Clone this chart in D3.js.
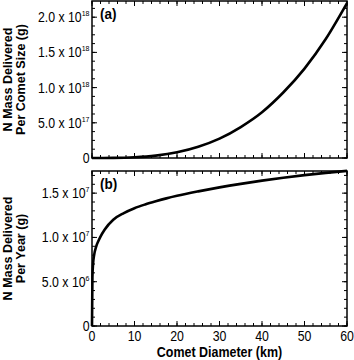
<!DOCTYPE html>
<html>
<head>
<meta charset="utf-8">
<script src="https://cdn.jsdelivr.net/npm/d3@7"></script>
<style>
  body { margin: 0; background: #fff; }
  svg { display: block; }
  text { font-family: "Liberation Sans", Arial, sans-serif; fill: #000; }
</style>
</head>
<body>
<svg id="chart" width="354" height="360"></svg>
<script>
// panel (a): N mass delivered per comet size
const diamA = [0, 5, 10, 15, 20, 25, 30, 35, 40, 45, 50, 55, 60];
const massPerComet = [0, 1.3e15, 1.0e16, 3.4e16, 8.1e16, 1.6e17, 2.75e17, 4.4e17, 6.5e17, 9.3e17, 1.27e18, 1.69e18, 2.2e18];

// panel (b): N mass delivered per year
const diamB = [0, 0.1, 0.25, 0.5, 1, 1.5, 2, 3, 5, 7.5, 10, 12.5, 15, 17.5, 20, 25, 30, 35, 40, 45, 50, 55, 60];
const massPerYear = [0, 5.5e6, 7.0e6, 8.0e6, 9.0e6, 9.6e6, 10.1e6, 10.9e6, 12.0e6, 12.75e6, 13.3e6, 13.72e6, 14.08e6, 14.41e6, 14.7e6, 15.2e6, 15.65e6, 16.05e6, 16.41e6, 16.74e6, 17.03e6, 17.29e6, 17.51e6];

// tick labels
const xTicks = [0, 10, 20, 30, 40, 50, 60];
const yTicksA = [0, 5e17, 1e18, 1.5e18, 2e18];
const yMantA = ["0", "5.0", "1.0", "1.5", "2.0"];
const yExpA = ["", "17", "18", "18", "18"];
const yTicksB = [0, 5e6, 1e7, 1.5e7];
const yMantB = ["0", "5.0", "1.0", "1.5"];
const yExpB = ["", "6", "7", "7"];

const svg = d3.select("#chart");
const left = 92, right = 347;

const x = d3.scaleLinear().domain([0, 60]).range([left, right]);
const xMinor = d3.range(0, 61, 2);

// narrow-looking text: squeeze a normal sans horizontally
function label(px, py, { size = 14, bold = false, anchor = "start", rot = 0, sx = 0.88 } = {}) {
  return svg.append("g")
    .attr("transform", `translate(${px},${py}) rotate(${rot}) scale(${sx},1)`)
    .append("text")
    .attr("text-anchor", anchor)
    .style("font-size", size + "px")
    .style("font-weight", bold ? "bold" : "normal");
}

function drawPanel(opts) {
  const { top, bottom, y, xs, ys, ticks, mant, exps, minorStep, tag, showX } = opts;
  const g = svg.append("g");

  const yMinor = d3.range(0, y.domain()[1] + 1, minorStep);

  // inward ticks on all four sides
  const tk = (vals, len, pos) => {
    vals.forEach(v => {
      if (pos === "bottom") g.append("line").attr("x1", x(v)).attr("x2", x(v)).attr("y1", bottom).attr("y2", bottom - len);
      if (pos === "top") g.append("line").attr("x1", x(v)).attr("x2", x(v)).attr("y1", top).attr("y2", top + len);
      if (pos === "left") g.append("line").attr("y1", y(v)).attr("y2", y(v)).attr("x1", left).attr("x2", left + len);
      if (pos === "right") g.append("line").attr("y1", y(v)).attr("y2", y(v)).attr("x1", right).attr("x2", right - len);
    });
  };
  ["bottom", "top"].forEach(p => { tk(xMinor, 3, p); tk(xTicks, 5, p); });
  ["left", "right"].forEach(p => { tk(yMinor, 3, p); tk(ticks, 5, p); });
  g.selectAll("line").attr("stroke", "#000").attr("stroke-width", 1);

  g.append("rect")
    .attr("x", left).attr("y", top)
    .attr("width", right - left).attr("height", bottom - top)
    .attr("fill", "none").attr("stroke", "#000").attr("stroke-width", 1.5);

  const line = d3.line()
    .x((d, i) => x(xs[i]))
    .y((d, i) => y(ys[i]))
    .curve(d3.curveMonotoneX);
  g.append("path")
    .attr("d", line(xs))
    .attr("fill", "none")
    .attr("stroke", "#000")
    .attr("stroke-width", 2.6);

  // y tick labels with superscript exponents
  ticks.forEach((v, i) => {
    const t = label(left - 2.5, y(v) + 5, { anchor: "end" });
    if (exps[i]) {
      t.append("tspan").text(mant[i] + " x 10");
      t.append("tspan").attr("dy", -6).style("font-size", "8px").text(exps[i]);
    } else {
      t.append("tspan").text(mant[i]);
    }
  });

  label(left + 8, top + 18, { size: 14.5, bold: true, sx: 0.93 }).text(tag);

  if (showX) {
    xTicks.forEach(v => {
      label(x(v), bottom + 14.5, { anchor: "middle" }).text(v);
    });
  }
}

const yA = d3.scaleLinear().domain([0, 2.23e18]).range([158, 1]);
const yB = d3.scaleLinear().domain([0, 1.75e7]).range([326, 171]);

drawPanel({ top: 1, bottom: 158, y: yA, xs: diamA, ys: massPerComet, ticks: yTicksA, mant: yMantA, exps: yExpA, minorStep: 1.25e17, tag: "(a)", showX: false });
drawPanel({ top: 171, bottom: 326, y: yB, xs: diamB, ys: massPerYear, ticks: yTicksB, mant: yMantB, exps: yExpB, minorStep: 1e6, tag: "(b)", showX: true });

// axis titles
const ytitle = (cy, lines) => {
  lines.forEach((s, i) => {
    label(12.3 + i * 12.2, cy, { size: 13.5, bold: true, anchor: "middle", rot: -90, sx: 0.93 }).text(s);
  });
};
ytitle(79.5, ["N Mass Delivered", "Per Comet Size (g)"]);
ytitle(248.5, ["N Mass Delivered", "Per Year (g)"]);

label((left + right) / 2, 356.5, { size: 14, bold: true, anchor: "middle", sx: 0.89 }).text("Comet Diameter (km)");
</script>
</body>
</html>
